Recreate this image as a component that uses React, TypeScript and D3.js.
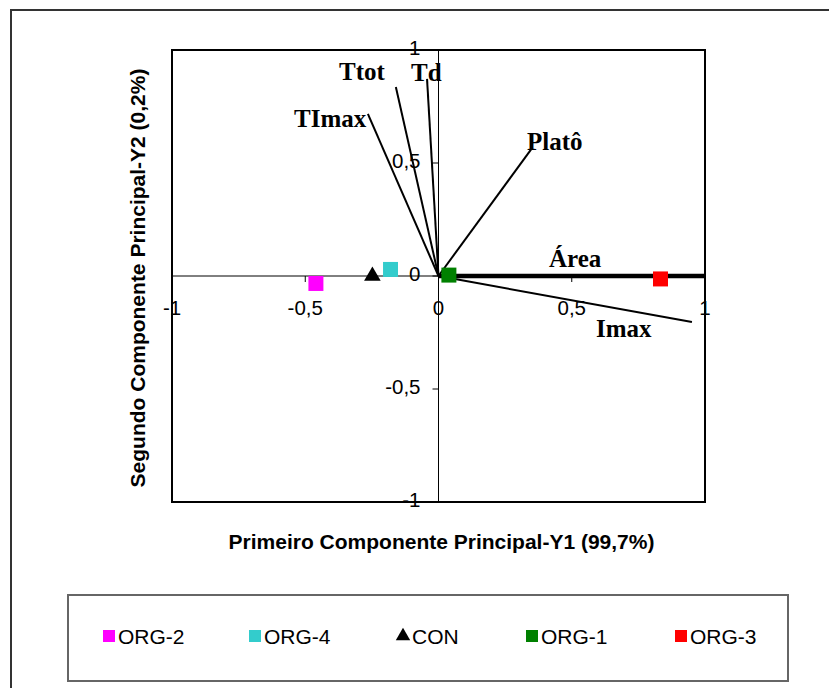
import { useEffect, useRef } from 'react';
import * as d3 from 'd3';

// loadings (variables) on the two components
const varNames = ['Ttot', 'Td', 'TImax', 'Platô', 'Área', 'Imax'];
const varX = [-0.16, -0.043, -0.265, 0.351, 1.0, 0.951];
const varY = [0.836, 0.872, 0.717, 0.566, 0.0, -0.204];

// scores (treatments)
const groups = ['ORG-2', 'ORG-4', 'CON', 'ORG-1', 'ORG-3'];
const groupX = [-0.46, -0.18, -0.248, 0.039, 0.833];
const groupY = [-0.033, 0.029, 0.0, 0.004, -0.013];
const groupColor = ['#ff00ff', '#33cccc', '#000000', '#008000', '#ff0000'];
const groupShape = ['square', 'square', 'triangle', 'square', 'square'];

const ticks = [-1, -0.5, 0, 0.5, 1];
const tickLabels = ['-1', '-0,5', '0', '0,5', '1'];

const sans = 'Arial, "Liberation Sans", sans-serif';
const serif = '"Times New Roman", "Liberation Serif", serif';

const App = () => {
  const svgRef = useRef<SVGSVGElement>(null);

  useEffect(() => {
    if (!svgRef.current) return;
    const svg = d3.select(svgRef.current);
    svg.selectAll('*').remove();

    const left = 172, right = 705, top = 50, bottom = 502;
    const x = d3.scaleLinear().domain([-1, 1]).range([left, right]);
    const y = d3.scaleLinear().domain([-1, 1]).range([bottom, top]);

    // outer frame
    svg.append('rect')
      .attr('x', 11).attr('y', 10).attr('width', 840).attr('height', 700)
      .attr('fill', 'white').attr('stroke', '#333').attr('stroke-width', 2);

    // plot border
    svg.append('rect')
      .attr('x', left).attr('y', top).attr('width', right - left).attr('height', bottom - top)
      .attr('fill', 'none').attr('stroke', '#000').attr('stroke-width', 2);

    // zero axes
    svg.append('line')
      .attr('x1', x(0)).attr('x2', x(0)).attr('y1', top).attr('y2', bottom)
      .attr('stroke', '#000').attr('stroke-width', 1);
    svg.append('line')
      .attr('x1', left).attr('x2', right).attr('y1', y(0)).attr('y2', y(0))
      .attr('stroke', '#000').attr('stroke-width', 1);

    // x ticks
    const xt = svg.append('g');
    ticks.forEach((t, i) => {
      xt.append('line')
        .attr('x1', x(t)).attr('x2', x(t)).attr('y1', y(0)).attr('y2', y(0) + 6)
        .attr('stroke', '#000');
      xt.append('text')
        .attr('x', x(t)).attr('y', y(0) + 39)
        .attr('text-anchor', 'middle')
        .style('font-family', sans)
        .style('font-size', '20.5px')
        .text(tickLabels[i]);
    });

    // y ticks
    const yt = svg.append('g');
    ticks.forEach((t, i) => {
      yt.append('line')
        .attr('x1', x(0) - 6).attr('x2', x(0)).attr('y1', y(t)).attr('y2', y(t))
        .attr('stroke', '#000');
      yt.append('text')
        .attr('x', x(0) - 18).attr('y', y(t) + 5)
        .attr('text-anchor', 'end')
        .style('font-family', sans)
        .style('font-size', '20.5px')
        .text(tickLabels[i]);
    });

    // loading vectors
    const labelPos: Record<string, [number, number]> = {
      'Ttot': [339, 80],
      'Td': [411, 81],
      'TImax': [294, 127],
      'Platô': [527, 150],
      'Área': [549, 267],
      'Imax': [596, 337],
    };
    varNames.forEach((n, i) => {
      svg.append('line')
        .attr('x1', x(0)).attr('y1', y(0))
        .attr('x2', x(varX[i])).attr('y2', y(varY[i]))
        .attr('stroke', '#000')
        .attr('stroke-width', n === 'Área' ? 4.5 : 2);
      svg.append('text')
        .attr('x', labelPos[n][0]).attr('y', labelPos[n][1])
        .style('font-family', serif)
        .style('font-weight', 'bold')
        .style('font-size', '25px')
        .text(n);
    });

    // scores
    const sym = (shape: string, size: number) =>
      d3.symbol().type(shape === 'triangle' ? d3.symbolTriangle : d3.symbolSquare).size(size)();
    groups.forEach((g, i) => {
      svg.append('path')
        .attr('d', sym(groupShape[i], groupShape[i] === 'triangle' ? 120 : 225))
        .attr('transform', `translate(${x(groupX[i])},${y(groupY[i])})`)
        .attr('fill', groupColor[i]);
    });

    // axis titles
    svg.append('text')
      .attr('x', x(0) + 3).attr('y', 549)
      .attr('text-anchor', 'middle')
      .style('font-family', sans)
      .style('font-weight', 'bold')
      .style('font-size', '21px')
      .text('Primeiro Componente Principal-Y1 (99,7%)');
    svg.append('text')
      .attr('transform', `translate(145,${y(0) + 2}) rotate(-90)`)
      .attr('text-anchor', 'middle')
      .style('font-family', sans)
      .style('font-weight', 'bold')
      .style('font-size', '21px')
      .text('Segundo Componente Principal-Y2 (0,2%)');

    // legend
    svg.append('rect')
      .attr('x', 68).attr('y', 595).attr('width', 720).attr('height', 86)
      .attr('fill', 'white').attr('stroke', '#666').attr('stroke-width', 2);
    const legendX = [109, 255, 403, 532, 681];
    groups.forEach((g, i) => {
      const item = svg.append('g').attr('transform', `translate(${legendX[i]},636)`);
      item.append('path')
        .attr('d', sym(groupShape[i], groupShape[i] === 'triangle' ? 90 : 144))
        .attr('fill', groupColor[i]);
      item.append('text')
        .attr('x', 9).attr('y', 8)
        .style('font-family', sans)
        .style('font-size', '21px')
        .text(g);
    });
  }, []);

  return (
    <svg ref={svgRef} width={829} height={688}
      style={{ position: 'absolute', left: 0, top: 0, background: 'white' }} />
  );
};

export default App;
